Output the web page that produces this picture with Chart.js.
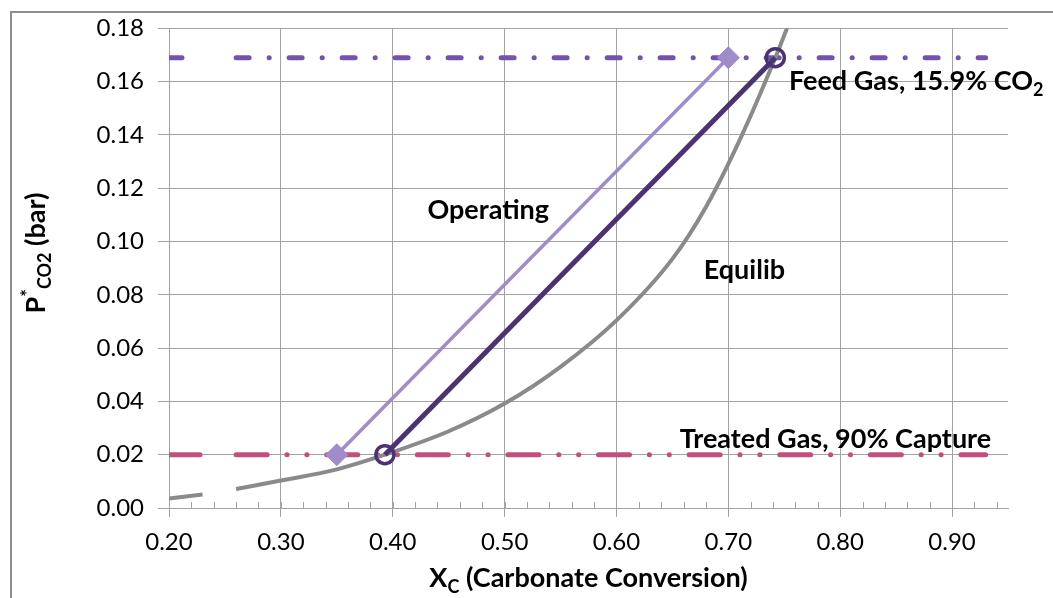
<!DOCTYPE html>
<html>
<head>
<meta charset="utf-8">
<script src="https://cdn.jsdelivr.net/npm/chart.js@4/dist/chart.umd.min.js"></script>
<style>
  html, body { margin: 0; padding: 0; background: #fff; }
  #wrap { width: 1053px; height: 598px; position: relative; overflow: hidden; }
</style>
</head>
<body>
<div id="wrap"><canvas id="c" width="1053" height="598"></canvas></div>
<script>
// Equilibrium CO2 partial pressure over the carbonate solvent (null = break in the curve)
const equilibX = [0.20, 0.23, 0.245, 0.26, 0.30, 0.35, 0.393, 0.45, 0.50, 0.55, 0.60, 0.65, 0.68, 0.71, 0.742, 0.757];
const equilibP = [0.0036, 0.0051, null, 0.0071, 0.0103, 0.0145, 0.020, 0.0288, 0.0392, 0.0530, 0.0704, 0.0935, 0.113, 0.138, 0.169, 0.185];

// Operating lines (lean end -> rich end)
const operLightX = [0.35, 0.70];
const operLightP = [0.02, 0.169];
const operDarkX = [0.393, 0.742];
const operDarkP = [0.02, 0.169];

// Feed gas (15.9% CO2) and treated gas (90% capture) partial pressures
const feedGasX = [0.20, 0.22, 0.24, 0.26, 0.93];
const feedGasP = [0.169, 0.169, null, 0.169, 0.169];
const treatedGasX = [0.20, 0.23, 0.245, 0.26, 0.93];
const treatedGasP = [0.02, 0.02, null, 0.02, 0.02];

// Axis ticks
const xTicks = [0.20, 0.30, 0.40, 0.50, 0.60, 0.70, 0.80, 0.90];
const xMinorStep = 0.02;
const yTicks = [0.00, 0.02, 0.04, 0.06, 0.08, 0.10, 0.12, 0.14, 0.16, 0.18];

// Text labels placed in data coordinates
const labels = [
  { runs: [{ t: 'Feed Gas, 15.9% CO' }, { t: '2', sub: true }], x: 0.7542, y: 0.1569 },
  { runs: [{ t: 'Operating' }], x: 0.431, y: 0.1086 },
  { runs: [{ t: 'Equilib' }], x: 0.678, y: 0.0858 },
  { runs: [{ t: 'Treated Gas, 90% Capture' }], x: 0.6566, y: 0.0225 }
];

const FONT = 'Lato, "Open Sans", sans-serif';
const GRID = '#A3A3A3';

function pts(xs, ys) { return xs.map((x, i) => ({ x: x, y: ys[i] })); }

// Draws a row of text runs (with sub/superscripts)
function drawRuns(ctx, runs, x, y, size, align) {
  const big = 'bold ' + size + 'px ' + FONT;
  const small = 'bold ' + Math.round(size * 0.68) + 'px ' + FONT;
  let total = 0;
  runs.forEach(r => { ctx.font = (r.sub || r.sup) ? small : big; r.w = ctx.measureText(r.t).width; total += r.w; });
  let cx = align === 'center' ? x - total / 2 : x;
  runs.forEach(r => {
    ctx.font = (r.sub || r.sup) ? small : big;
    const dy = r.sub ? size * 0.22 : (r.sup ? -size * 0.42 : 0);
    ctx.fillText(r.t, cx, y + dy);
    cx += r.w;
  });
}

const decor = {
  id: 'decor',
  beforeDraw(chart) {
    const ctx = chart.ctx;
    ctx.save();
    ctx.fillStyle = '#fff';
    ctx.fillRect(0, 0, chart.width, chart.height);
    ctx.restore();
  },
  afterDatasetsDraw(chart) {
    const ctx = chart.ctx;
    const xs = chart.scales.x, ys = chart.scales.y;
    ctx.save();
    ctx.fillStyle = '#000';
    ctx.textBaseline = 'alphabetic';
    labels.forEach(l => {
      drawRuns(ctx, l.runs, xs.getPixelForValue(l.x), ys.getPixelForValue(l.y), 27, 'left');
    });
    ctx.restore();
  },
  afterDraw(chart) {
    const ctx = chart.ctx;
    const xs = chart.scales.x;
    const area = chart.chartArea;
    ctx.save();
    // minor ticks on the horizontal axis, pointing into the plot
    ctx.strokeStyle = GRID;
    ctx.lineWidth = 1;
    for (let v = xs.min + xMinorStep; v < xs.max - 1e-9; v += xMinorStep) {
      const px = Math.round(xs.getPixelForValue(v)) + 0.5;
      ctx.beginPath();
      ctx.moveTo(px, area.bottom - 6);
      ctx.lineTo(px, area.bottom);
      ctx.stroke();
    }
    // outer frame
    ctx.strokeStyle = '#8E8E8E';
    ctx.lineWidth = 2;
    ctx.strokeRect(11, 12, chart.width + 20, chart.height + 20);
    // axis titles
    ctx.fillStyle = '#000';
    ctx.textBaseline = 'alphabetic';
    drawRuns(ctx, [{ t: 'X' }, { t: 'C', sub: true }, { t: ' (Carbonate Conversion)' }],
      (area.left + area.right) / 2, 587, 27, 'center');
    ctx.translate(45, 253);
    ctx.rotate(-Math.PI / 2);
    drawRuns(ctx, [{ t: 'P' }, { t: '*', sup: true }, { t: 'CO2', sub: true }, { t: ' (bar)' }], 0, 0, 27, 'center');
    ctx.restore();
  }
};

const tickFont = { family: FONT, size: 24 };

new Chart(document.getElementById('c'), {
  type: 'scatter',
  data: {
    datasets: [
      {
        label: 'Operating (light)', data: pts(operLightX, operLightP), showLine: true,
        borderColor: '#A08BCB', backgroundColor: '#A08BCB', borderWidth: 3.5,
        pointStyle: 'rectRot', pointRadius: 11, pointBorderWidth: 1, order: 1
      },
      {
        label: 'Operating (dark)', data: pts(operDarkX, operDarkP), showLine: true,
        borderColor: '#4B3274', backgroundColor: 'rgba(255,255,255,0)', borderWidth: 5,
        pointStyle: 'circle', pointRadius: 9, pointBorderWidth: 3.5, order: 2
      },
      {
        label: 'Equilib', data: pts(equilibX, equilibP), showLine: true, spanGaps: false,
        borderColor: '#8A8A8A', borderWidth: 4, pointRadius: 0,
        cubicInterpolationMode: 'monotone', order: 3
      },
      {
        label: 'Feed Gas', data: pts(feedGasX, feedGasP), showLine: true, spanGaps: false,
        borderColor: '#7453AE', borderWidth: 5, pointRadius: 0, borderCapStyle: 'round',
        borderDash: [13, 20, 0.1, 19.9], order: 4
      },
      {
        label: 'Treated Gas', data: pts(treatedGasX, treatedGasP), showLine: true, spanGaps: false,
        borderColor: '#C24F7C', borderWidth: 5, pointRadius: 0, borderCapStyle: 'round',
        borderDash: [31, 19.8, 0.1, 19.8, 0.1, 19.8], order: 5
      }
    ]
  },
  options: {
    responsive: false,
    animation: false,
    events: [],
    layout: { padding: { top: 27, right: 45, left: 0, bottom: 0 } },
    plugins: { legend: { display: false }, tooltip: { enabled: false } },
    scales: {
      x: {
        type: 'linear', min: 0.20, max: 0.95,
        afterBuildTicks: s => { s.ticks = xTicks.map(v => ({ value: v })); },
        afterFit: s => { s.height = 90; },
        ticks: { font: tickFont, color: '#000', padding: 11, maxRotation: 0, callback: v => v.toFixed(2) },
        grid: { color: GRID, lineWidth: 1, tickLength: 9, drawTicks: true },
        border: { color: GRID, width: 1 }
      },
      y: {
        type: 'linear', min: 0, max: 0.18,
        afterBuildTicks: s => { s.ticks = yTicks.map(v => ({ value: v })); },
        afterFit: s => { s.width = 169; },
        ticks: { font: tickFont, color: '#000', padding: 14, callback: v => v.toFixed(2) },
        grid: { color: GRID, lineWidth: 1, tickLength: 11, drawTicks: true },
        border: { color: GRID, width: 1 }
      }
    }
  },
  plugins: [decor]
});
</script>
</body>
</html>
